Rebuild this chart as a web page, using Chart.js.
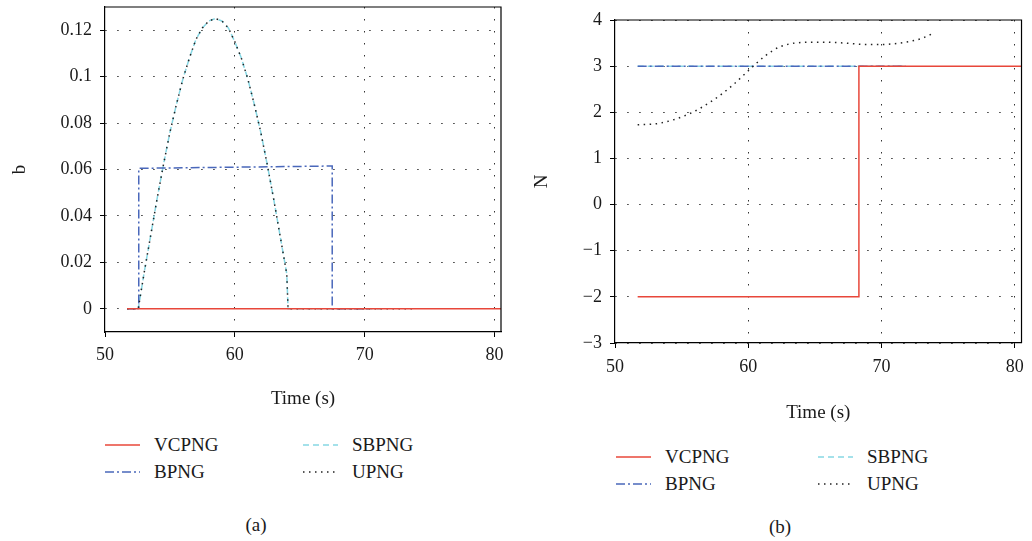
<!DOCTYPE html>
<html>
<head>
<meta charset="utf-8">
<script src="https://cdn.jsdelivr.net/npm/chart.js@4"></script>
<style>
  html, body { margin: 0; padding: 0; background: #fff; }
  body { width: 1032px; height: 541px; position: relative; overflow: hidden;
         font-family: "Liberation Serif", "Times New Roman", serif; color: #1a1a1a; }
  .panel { position: absolute; top: 0; }
  .leg { position: absolute; display: flex; align-items: center; height: 24px; font-size: 19px; }
  .leg svg { margin-right: 14px; }
  .cap { position: absolute; font-size: 19px; transform: translate(-50%, -50%); }
</style>
</head>
<body>
<div class="panel" style="left:0"><canvas id="chartA" width="516" height="410"></canvas></div>
<div class="panel" style="left:516px"><canvas id="chartB" width="516" height="424"></canvas></div>
<div id="legends"></div>

<script>
// ---- data: panel (a) ----
const xTicks = [50, 60, 70, 80];
const yTicksA = [0, 0.02, 0.04, 0.06, 0.08, 0.1, 0.12];
const yTicksB = [-3, -2, -1, 0, 1, 2, 3, 4];

// hump shared by SBPNG and UPNG (they overlap in panel a)
const humpTimeA = [51.7, 52.56, 53, 53.5, 54, 54.5, 55, 55.5, 56, 56.5, 57, 57.5, 58, 58.5,
                   59, 59.5, 60, 60.5, 61, 61.5, 62, 62.5, 63, 63.5, 64, 64.1];
const humpValsA = [0, 0, 0.015, 0.031, 0.047, 0.062, 0.076, 0.088, 0.099, 0.108, 0.116, 0.121, 0.124, 0.125,
                   0.124, 0.121, 0.115, 0.108, 0.099, 0.088, 0.076, 0.062, 0.047, 0.031, 0.015, 0];
const sbpngTailA = [71.3, 0];
const upngTailA = [73.7, 0];

const vcpngTimeA = [51.7, 80.5];
const vcpngValsA = [0, 0];
const bpngTimeA = [51.7, 52.6, 52.6, 67.5, 67.5, 70.5];
const bpngValsA = [0, 0, 0.0605, 0.0615, 0, 0];

// ---- data: panel (b) ----
const vcpngTimeB = [51.7, 68.3, 68.3, 80.5];
const vcpngValsB = [-2, -2, 3, 3];
const bpngTimeB = [51.7, 71.8];
const bpngValsB = [3, 3];
const sbpngTimeB = [51.7, 71.8];
const sbpngValsB = [3, 3];
const upngTimeB = [51.7, 53.3, 55.6, 57.3, 58.8, 60, 61.3, 62.3, 63.5, 65.3, 67.3, 68.7, 70, 71.8, 73, 73.8];
const upngValsB = [1.73, 1.76, 1.97, 2.25, 2.58, 2.9, 3.23, 3.41, 3.5, 3.52, 3.5, 3.47, 3.47, 3.52, 3.6, 3.7];

// line styles (also used for the legend samples)
const STYLES = {
  VCPNG: { color: "#e8473a", dash: [], order: 0 },
  UPNG:  { color: "#222222", dash: [1.5, 4.5], order: 1 },
  BPNG:  { color: "#4a68bb", dash: [9, 3, 2, 3], order: 2 },
  SBPNG: { color: "#86d7e4", dash: [6, 4], order: 3 }
};
const FONT = "'Liberation Serif', 'Times New Roman', serif";

function pts(ts, vs) {
  return ts.map((t, i) => ({ x: t, y: vs[i] }));
}

function ds(name, data, extra) {
  const s = STYLES[name];
  return Object.assign({
    label: name, data, borderColor: s.color, borderDash: s.dash, borderWidth: 1.5,
    pointRadius: 0, fill: false, tension: 0, order: s.order
  }, extra || {});
}

// box around the plot area (top + right sides, axes give the other two)
const frame = {
  id: "frame",
  afterDraw(chart) {
    const { ctx, chartArea: a } = chart;
    ctx.save();
    ctx.strokeStyle = "#000";
    ctx.lineWidth = 1.2;
    ctx.beginPath();
    ctx.moveTo(a.left, a.top);
    ctx.lineTo(a.right, a.top);
    ctx.lineTo(a.right, a.bottom);
    ctx.stroke();
    ctx.restore();
  }
};

function makeChart(id, datasets, opt) {
  return new Chart(document.getElementById(id), {
    type: "line",
    data: { datasets },
    plugins: [frame],
    options: {
      responsive: false,
      animation: false,
      layout: { padding: opt.padding },
      plugins: { legend: { display: false }, tooltip: { enabled: false } },
      scales: {
        x: {
          type: "linear", min: 50, max: 80.5,
          afterBuildTicks: (s) => { s.ticks = xTicks.map((v) => ({ value: v })); },
          afterFit: (s) => { s.height = opt.xHeight; },
          grid: { color: (c) => (c.tick && c.tick.value === 50 ? "rgba(0,0,0,0)" : "#333"),
                  tickColor: "#000", tickLength: 5, tickBorderDash: [] },
          border: { color: "#000", width: 1.2, dash: [1.5, 10.5] },
          ticks: { color: "#1a1a1a", font: { family: FONT, size: 18 }, padding: opt.xPad, maxRotation: 0 },
          title: { display: true, text: "Time (s)", color: "#1a1a1a", font: { family: FONT, size: 19 },
                   padding: { top: 0, bottom: 0 } }
        },
        y: {
          type: "linear", min: opt.yMin, max: opt.yMax,
          afterBuildTicks: (s) => { s.ticks = opt.yTicks.map((v) => ({ value: v })); },
          afterFit: (s) => {
            s.width = opt.yWidth;
            // outer layout padding decides the plot top, not the label overflow
            s.paddingTop = 0;
            s.paddingBottom = 0;
          },
          grid: { color: "#333", tickColor: "#000", tickLength: 5, tickBorderDash: [] },
          border: { color: "#000", width: 1.2, dash: [1.5, 10.5] },
          ticks: { color: "#1a1a1a", font: { family: FONT, size: 18 }, padding: 8, callback: opt.fmt },
          title: { display: true, text: opt.yTitle, color: "#1a1a1a", font: { family: FONT, size: 19 },
                   padding: { top: 0, bottom: 0 } }
        }
      }
    }
  });
}

makeChart("chartA", [
  ds("VCPNG", pts(vcpngTimeA, vcpngValsA)),
  ds("BPNG", pts(bpngTimeA, bpngValsA)),
  ds("SBPNG", pts(humpTimeA.concat(sbpngTailA[0]), humpValsA.concat(sbpngTailA[1]))),
  ds("UPNG", pts(humpTimeA.concat(upngTailA[0]), humpValsA.concat(upngTailA[1])))
], {
  padding: { left: 9, right: 15, top: 7, bottom: 0 },
  xHeight: 78, yWidth: 96, xPad: 7,
  yMin: -0.01, yMax: 0.13, yTicks: yTicksA, yTitle: "b",
  fmt: (v) => String(+v.toFixed(2))
});

makeChart("chartB", [
  ds("VCPNG", pts(vcpngTimeB, vcpngValsB)),
  ds("BPNG", pts(bpngTimeB, bpngValsB)),
  ds("SBPNG", pts(sbpngTimeB, sbpngValsB)),
  ds("UPNG", pts(upngTimeB, upngValsB), { cubicInterpolationMode: "monotone" })
], {
  padding: { left: 15, right: 9, top: 20, bottom: 0 },
  xHeight: 81, yWidth: 84, xPad: 8,
  yMin: -3, yMax: 4, yTicks: yTicksB, yTitle: "N",
  fmt: (v) => (v < 0 ? "\u2212" + Math.abs(v) : String(v))
});

// two-column legends + captions under each panel
const legendOrder = [["VCPNG", "SBPNG"], ["BPNG", "UPNG"]];
const legendSpots = [
  { cols: [105, 303], rows: [445, 472], cap: "(a)", capX: 256, capY: 525 },
  { cols: [616, 818], rows: [457, 484], cap: "(b)", capX: 780, capY: 527 }
];
const host = document.getElementById("legends");
legendSpots.forEach((spot) => {
  legendOrder.forEach((row, r) => {
    row.forEach((name, c) => {
      const s = STYLES[name];
      const el = document.createElement("div");
      el.className = "leg";
      el.style.left = spot.cols[c] + "px";
      el.style.top = (spot.rows[r] - 12) + "px";
      el.innerHTML = `<svg width="35" height="6"><line x1="0" y1="3" x2="35" y2="3" stroke="${s.color}"
        stroke-width="1.5" stroke-dasharray="${s.dash.join(" ") || "none"}"/></svg><span>${name}</span>`;
      host.appendChild(el);
    });
  });
  const cap = document.createElement("div");
  cap.className = "cap";
  cap.style.left = spot.capX + "px";
  cap.style.top = spot.capY + "px";
  cap.textContent = spot.cap;
  host.appendChild(cap);
});
</script>
</body>
</html>
